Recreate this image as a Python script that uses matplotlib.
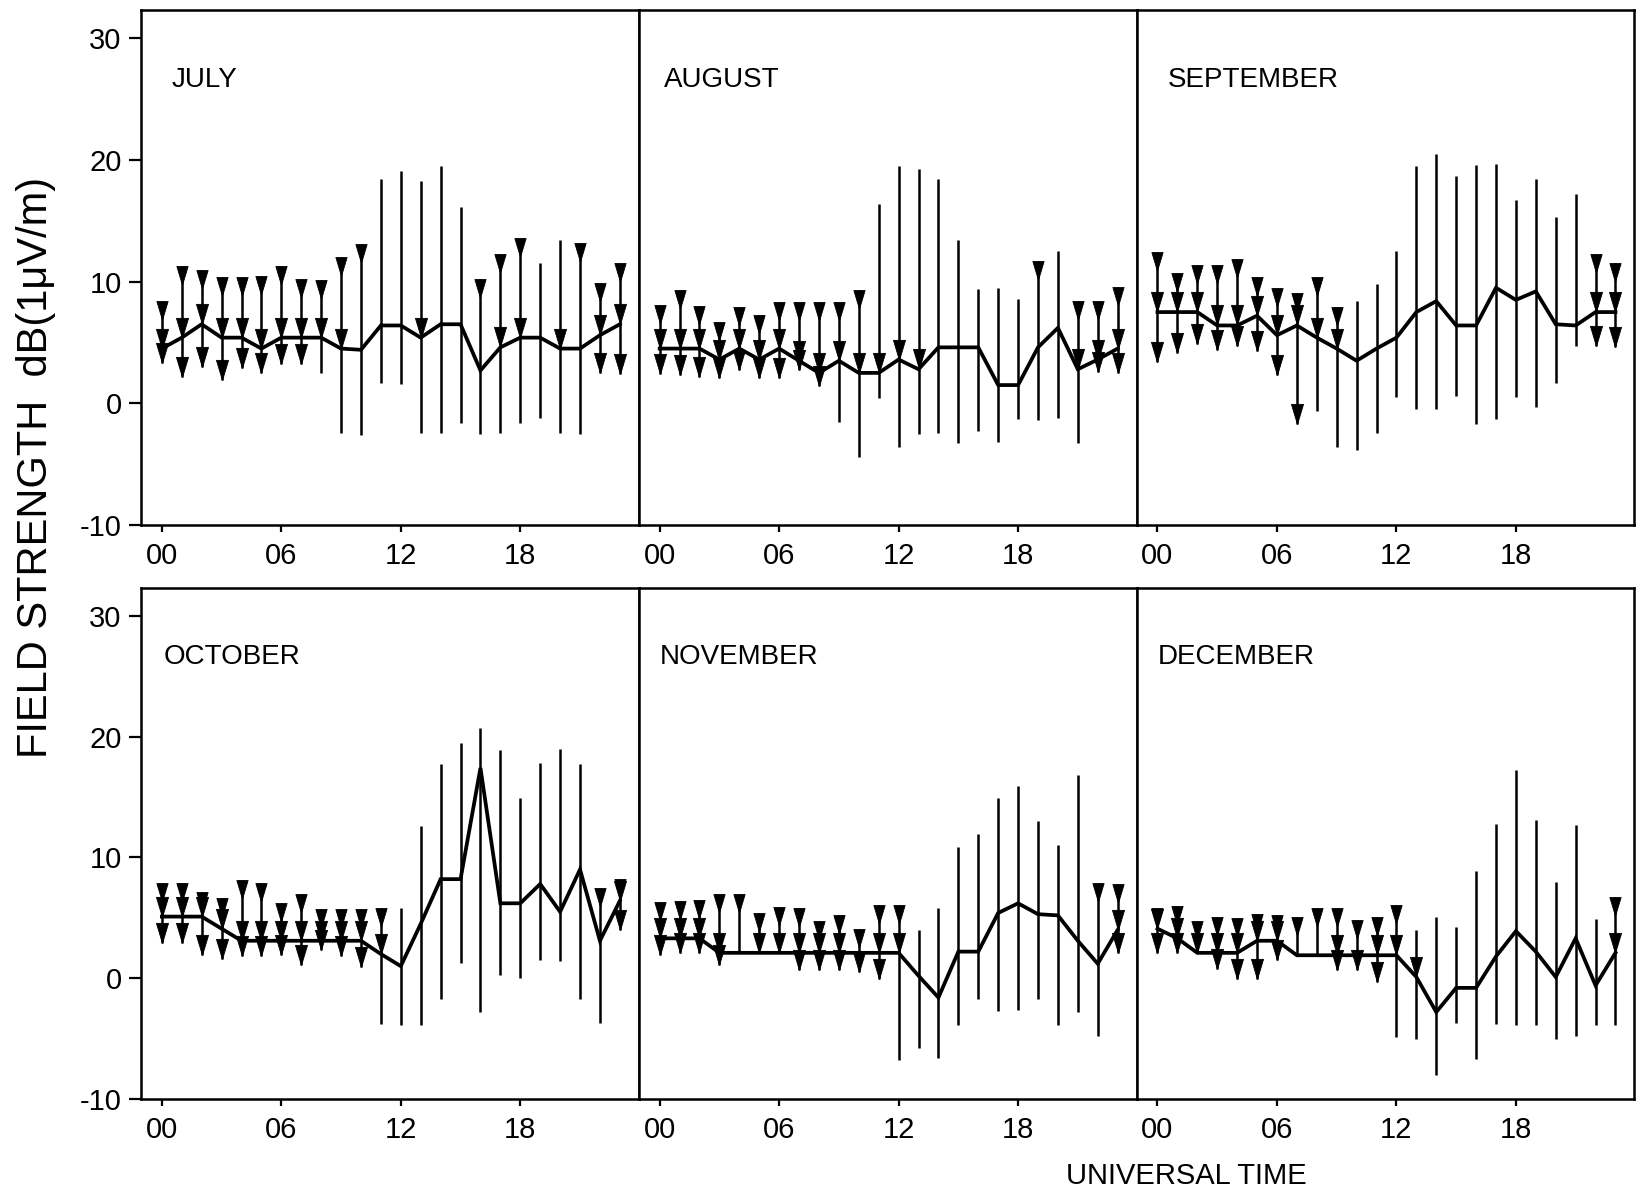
import numpy as np
import matplotlib
matplotlib.use("Agg")
import matplotlib.pyplot as plt
from matplotlib.path import Path

plt.rcParams['font.family'] = ['Liberation Sans', 'DejaVu Sans']
plt.rcParams['axes.unicode_minus'] = False

HOURS = np.arange(24)

MONTHS = ["JULY", "AUGUST", "SEPTEMBER", "OCTOBER", "NOVEMBER", "DECEMBER"]

# flags: T = upper-limit tail marker at top, M = arrow at median, B = arrow at bottom
JULY_MED = [4.5, 5.4, 6.5, 5.4, 5.4, 4.5, 5.4, 5.4, 5.4, 4.5, 4.4, 6.4, 6.4, 5.4, 6.5, 6.5, 2.7, 4.6, 5.4, 5.4, 4.5, 4.5, 5.6, 6.5]
JULY_HI = [8.4, 11.3, 11.0, 10.4, 10.4, 10.5, 11.3, 10.2, 10.1, 12.0, 13.1, 18.4, 19.1, 18.3, 19.5, 16.1, 10.2, 12.3, 13.6, 11.5, 13.4, 13.2, 9.9, 11.5]
JULY_LO = [3.3, 2.2, 3.0, 1.9, 2.9, 2.5, 3.2, 3.2, 2.5, -2.4, -2.6, 1.7, 1.6, -2.4, -2.4, -1.6, -2.5, -2.4, -1.6, -1.2, -2.4, -2.5, 2.5, 2.4]
JULY_FLAGS = ["TMB", "TMB", "TMB", "TMB", "TMB", "TMB", "TMB", "TMB", "TM", "TM", "T", "", "", "M", "", "", "T", "TM", "TM", "", "M", "T", "TMB", "TMB"]

AUG_MED = [4.5, 4.5, 4.5, 3.6, 4.5, 3.6, 4.5, 3.5, 2.5, 3.5, 2.5, 2.5, 3.6, 2.8, 4.6, 4.6, 4.6, 1.5, 1.5, 4.6, 6.2, 2.8, 3.6, 4.5]
AUG_HI = [8.1, 9.3, 8.0, 6.7, 7.9, 7.3, 8.3, 8.3, 8.3, 8.3, 9.3, 16.4, 19.5, 19.3, 18.4, 13.4, 9.4, 9.5, 8.6, 11.7, 12.5, 8.4, 8.4, 9.6]
AUG_LO = [2.4, 2.3, 2.2, 2.1, 2.7, 2.1, 2.1, 2.7, 1.4, -1.5, -4.4, 0.4, -3.6, -2.5, -2.4, -3.3, -2.3, -3.2, -1.3, -1.4, -1.2, -3.3, 2.6, 2.5]
AUG_FLAGS = ["TMB", "TMB", "TMB", "TMB", "TMB", "TMB", "TMB", "TMB", "TMB", "TM", "TM", "M", "M", "M", "", "", "", "", "", "T", "", "TM", "TMB", "TMB"]

SEP_MED = [7.5, 7.5, 7.5, 6.4, 6.4, 7.2, 5.6, 6.4, 5.4, 4.5, 3.5, 4.5, 5.4, 7.5, 8.4, 6.4, 6.4, 9.5, 8.5, 9.2, 6.5, 6.4, 7.5, 7.5]
SEP_HI = [12.4, 10.7, 11.4, 11.4, 11.9, 10.4, 9.5, 9.1, 10.4, 7.9, 8.4, 9.8, 12.5, 19.5, 20.5, 18.7, 19.6, 19.7, 16.7, 18.4, 15.3, 17.2, 12.3, 11.5]
SEP_LO = [3.4, 4.1, 4.9, 4.4, 4.7, 4.3, 2.3, -1.7, -0.6, -3.6, -3.8, -2.4, 0.5, -0.5, -0.5, 0.6, -1.7, -1.3, 0.5, -0.3, 1.7, 4.7, 4.7, 4.6]
SEP_FLAGS = ["TMB", "TMB", "TMB", "TMB", "TMB", "TMB", "TMB", "TMB", "TM", "TM", "", "", "", "", "", "", "", "", "", "", "", "", "TMB", "TMB"]

OCT_MED = [5.1, 5.1, 5.1, 4.1, 3.1, 3.1, 3.1, 3.1, 3.1, 3.1, 3.1, 2.0, 1.0, 4.5, 8.2, 8.2, 17.4, 6.2, 6.2, 7.8, 5.5, 9.0, 3.1, 6.4]
OCT_HI = [7.9, 7.9, 7.1, 6.6, 8.1, 7.9, 6.2, 7.0, 5.7, 5.7, 5.7, 5.8, 5.8, 12.6, 17.7, 19.5, 20.7, 18.9, 14.9, 17.8, 19.0, 17.7, 7.5, 8.2]
OCT_LO = [2.9, 2.9, 1.9, 1.6, 1.8, 1.8, 1.9, 1.1, 2.3, 1.8, 0.9, -3.8, -3.9, -3.9, -1.7, 1.3, -2.8, 0.3, 0.0, 1.5, 1.4, -1.7, -3.7, 4.0]
OCT_FLAGS = ["TMB", "TMB", "TMB", "TMB", "TMB", "TMB", "TMB", "TMB", "TMB", "TMB", "TMB", "TM", "", "", "", "", "", "", "", "", "", "", "T", "TMB"]

NOV_MED = [3.3, 3.3, 3.3, 2.1, 2.1, 2.1, 2.1, 2.1, 2.1, 2.1, 2.1, 2.1, 2.1, 0.2, -1.6, 2.2, 2.2, 5.4, 6.2, 5.3, 5.2, 3.1, 1.2, 4.0]
NOV_HI = [6.3, 6.4, 6.5, 7.0, 7.0, 5.4, 5.9, 5.8, 4.7, 5.2, 4.1, 6.1, 6.1, 4.0, 5.8, 10.9, 11.9, 14.9, 15.9, 13.0, 11.0, 16.8, 7.9, 7.8]
NOV_LO = [1.9, 2.1, 2.1, 1.1, 2.1, 2.1, 2.1, 0.7, 0.7, 0.7, 0.5, -0.1, -6.8, -5.8, -6.6, -3.9, -1.7, -2.7, -2.6, -1.7, -3.9, -2.8, -4.8, 2.1]
NOV_FLAGS = ["TMB", "TMB", "TMB", "TMB", "T", "TM", "TM", "TMB", "TMB", "TMB", "TB", "TMB", "TM", "", "", "", "", "", "", "", "", "", "T", "TMB"]

DEC_MED = [4.1, 3.3, 2.1, 2.1, 2.1, 3.1, 3.1, 1.9, 1.9, 1.9, 1.9, 1.9, 1.9, 0.1, -2.8, -0.8, -0.8, 1.8, 3.9, 2.2, 0.1, 3.3, -0.6, 2.1]
DEC_HI = [5.8, 6.0, 4.7, 5.1, 5.0, 5.3, 5.2, 5.1, 5.8, 5.8, 4.8, 5.1, 6.1, 4.0, 5.1, 4.2, 8.9, 12.8, 17.2, 13.1, 8.0, 12.7, 4.9, 6.7]
DEC_LO = [2.1, 2.1, 2.1, 0.8, -0.1, -0.1, 1.5, 1.9, 1.9, 0.7, 0.7, -0.3, -4.9, -5.0, -8.0, -3.7, -6.7, -3.8, -3.9, -3.9, -5.0, -4.8, -3.9, -3.9]
DEC_FLAGS = ["TMB", "TMB", "TM", "TMB", "TMB", "TMB", "TMB", "T", "T", "TMB", "TB", "TMB", "TM", "M", "", "", "", "", "", "", "", "", "", "TM"]

XTICKS = [0, 6, 12, 18]
XTICK_LABELS = ["00", "06", "12", "18"]
YTICKS = [-10, 0, 10, 20, 30]
YTICK_LABELS = ["-10", "0", "10", "20", "30"]

panels = [
    (JULY_MED, JULY_HI, JULY_LO, JULY_FLAGS),
    (AUG_MED, AUG_HI, AUG_LO, AUG_FLAGS),
    (SEP_MED, SEP_HI, SEP_LO, SEP_FLAGS),
    (OCT_MED, OCT_HI, OCT_LO, OCT_FLAGS),
    (NOV_MED, NOV_HI, NOV_LO, NOV_FLAGS),
    (DEC_MED, DEC_HI, DEC_LO, DEC_FLAGS),
]
label_x = [0.062, 0.05, 0.063, 0.046, 0.042, 0.042]

# markers: arrow head with tip at the data point, and tail triangle with base at the data point
head = Path([(-0.3, 1.0), (0.3, 1.0), (0.0, 0.0), (-0.3, 1.0)],
            [Path.MOVETO, Path.LINETO, Path.LINETO, Path.CLOSEPOLY])
tail = Path([(-0.3, 0.0), (0.3, 0.0), (0.0, -1.0), (-0.3, 0.0)],
            [Path.MOVETO, Path.LINETO, Path.LINETO, Path.CLOSEPOLY])

fig = plt.figure(figsize=(16.37, 11.95), dpi=100)
left = 0.0861
w = 0.3041
rows = [(0.5607, 0.4306), (0.0803, 0.4277)]

for k, (med, hi, lo, flags) in enumerate(panels):
    r, c = divmod(k, 3)
    b, h = rows[r]
    ax = fig.add_axes([left + c * w, b, w, h])
    med = np.array(med, float)
    hi = np.array(hi, float)
    lo = np.array(lo, float)
    ax.vlines(HOURS, lo, hi, color='black', lw=1.8)
    ax.plot(HOURS, med, color='black', lw=2.7, solid_joinstyle='miter')
    t = np.array(['T' in f for f in flags])
    m = np.array(['M' in f for f in flags])
    bb = np.array(['B' in f for f in flags])
    ax.plot(HOURS[t], hi[t], ls='none', marker=tail, ms=27, color='black', mew=0.6)
    ax.plot(HOURS[m], med[m], ls='none', marker=head, ms=29, color='black', mew=0.6)
    ax.plot(HOURS[bb], lo[bb], ls='none', marker=head, ms=29, color='black', mew=0.6)
    ax.set_xlim(-1.05, 23.95)
    ax.set_ylim(-10, 32.3)
    for s in ax.spines.values():
        s.set_linewidth(1.8)
    ax.set_xticks(XTICKS)
    ax.set_xticklabels(XTICK_LABELS, fontsize=21)
    ax.tick_params(axis='x', direction='out', length=5, width=1.6, pad=7)
    if c == 0:
        ax.set_yticks(YTICKS)
        ax.set_yticklabels(YTICK_LABELS, fontsize=21)
        ax.tick_params(axis='y', direction='out', length=9, width=1.6, pad=5)
    else:
        ax.set_yticks([])
    ax.text(label_x[k], 0.865, MONTHS[k], transform=ax.transAxes,
            fontsize=20, ha='left', va='center')

fig.text(0.022, 0.609, "FIELD STRENGTH  dB(1μV/m)", rotation=90,
         fontsize=30, ha='center', va='center')
fig.text(0.725, 0.016, "UNIVERSAL TIME", fontsize=21, ha='center', va='center')

fig.savefig("out.png", dpi=100, facecolor='white')
